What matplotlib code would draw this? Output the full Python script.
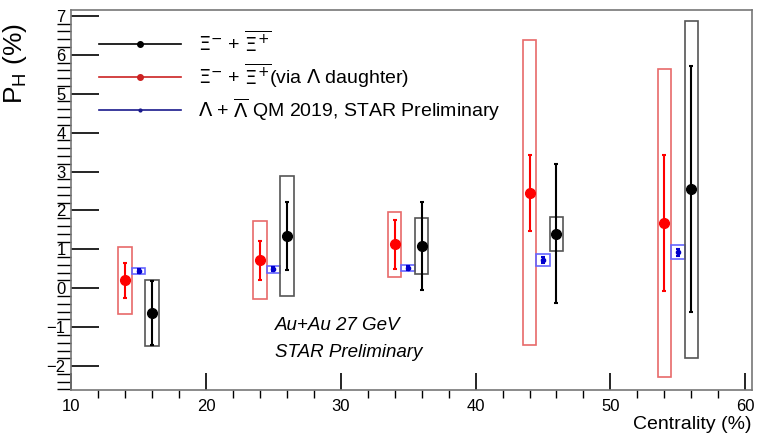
import matplotlib.pyplot as plt
from matplotlib.patches import Rectangle
from matplotlib.lines import Line2D
from matplotlib.ticker import MultipleLocator

# Xi- + anti-Xi+ (direct)
xi_x = [16, 26, 36, 46, 56]
xi_y = [-0.63, 1.34, 1.08, 1.40, 2.54]
xi_stat = [0.82, 0.88, 1.13, 1.79, 3.16]
xi_sys = [0.85, 1.55, 0.72, 0.43, 4.33]

# Xi via Lambda daughter
xil_x = [14, 24, 34, 44, 54]
xil_y = [0.20, 0.72, 1.13, 2.45, 1.68]
xil_stat = [0.44, 0.50, 0.63, 0.98, 1.74]
xil_sys = [0.86, 1.00, 0.83, 3.92, 3.95]

# Lambda QM 2019
lam_x = [15, 25, 35, 45, 55]
lam_y = [0.45, 0.49, 0.52, 0.73, 0.92]
lam_stat = [0.05, 0.05, 0.05, 0.08, 0.10]
lam_sys = [0.08, 0.09, 0.08, 0.15, 0.18]

plt.rcParams['font.family'] = ['Liberation Sans', 'DejaVu Sans']
plt.rcParams['mathtext.fontset'] = 'dejavusans'

fig = plt.figure(figsize=(7.58, 4.36), dpi=100)
ax = fig.add_axes([0.094, 0.105, 0.898, 0.872])

def draw(xs, ys, stat, sys, col, boxcol, ms):
    for x, y, s in zip(xs, ys, sys):
        ax.add_patch(Rectangle((x - 0.5, y - s), 1.0, 2 * s, fill=False,
                               edgecolor=boxcol, lw=1.2, zorder=2))
    ax.errorbar(xs, ys, yerr=stat, fmt='o', color=col, ms=ms, lw=1.5,
                capsize=1.5, capthick=1.5, zorder=3)

draw(xil_x, xil_y, xil_stat, xil_sys, '#ff0000', '#e86a6a', 7)
draw(lam_x, lam_y, lam_stat, lam_sys, '#0000cc', '#6666ff', 3)
draw(xi_x, xi_y, xi_stat, xi_sys, 'black', '#555555', 7)

ax.set_xlim(10, 60.5)
ax.set_ylim(-2.62, 7.15)
ax.xaxis.set_major_locator(MultipleLocator(10))
ax.xaxis.set_minor_locator(MultipleLocator(2))
ax.yaxis.set_major_locator(MultipleLocator(1))
ax.yaxis.set_minor_locator(MultipleLocator(0.2))
ax.tick_params(direction='in', labelsize=12, top=False, right=False)
ax.tick_params(axis='y', which='major', length=20, width=1.2, pad=4)
ax.tick_params(axis='y', which='minor', length=10, width=1)
ax.tick_params(axis='x', which='major', length=12, width=1.2, pad=6)
ax.tick_params(axis='x', which='minor', length=6, width=1)
for sp in ax.spines.values():
    sp.set_color('#777777')
    sp.set_linewidth(1.2)

ax.set_ylabel(r'P$_\mathregular{H}$ (%)', fontsize=19)
ax.yaxis.set_label_coords(-0.062, 0.86)
ax.set_xlabel('Centrality (%)', fontsize=14, ha='right')
ax.xaxis.set_label_coords(1.0, -0.068)

handles = [
    Line2D([], [], color='black', marker='o', ms=4, lw=1.2),
    Line2D([], [], color='#cc2222', marker='o', ms=4, lw=1.2),
    Line2D([], [], color='#1a1a8c', marker='o', ms=2, lw=1.2),
]
labels = [
    r'$\Xi^{-}$ + $\overline{\Xi^{+}}$',
    r'$\Xi^{-}$ + $\overline{\Xi^{+}}$(via $\Lambda$ daughter)',
    r'$\Lambda$ + $\overline{\Lambda}$ QM 2019, STAR Preliminary',
]
ax.legend(handles, labels, loc='upper left', bbox_to_anchor=(0.015, 0.995),
          frameon=False, fontsize=14, handlelength=4.2, handletextpad=0.9,
          labelspacing=0.3)

ax.text(25.1, -0.95, 'Au+Au 27 GeV', fontsize=13.5, style='italic', va='center')
ax.text(25.1, -1.65, 'STAR Preliminary', fontsize=13.5, style='italic', va='center')

fig.savefig('out.png', dpi=100)
